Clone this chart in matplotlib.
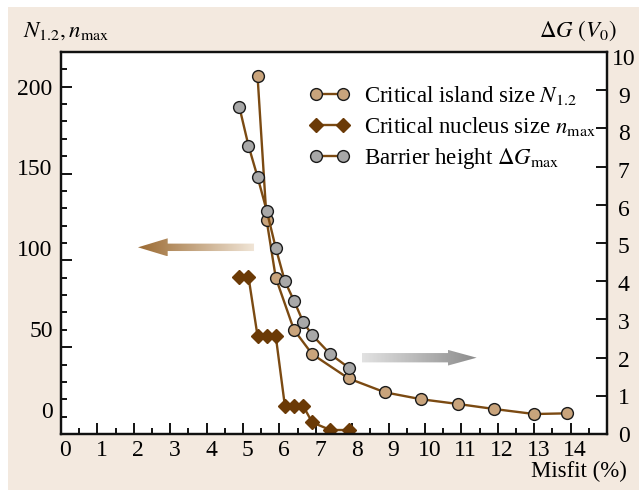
import numpy as np
import matplotlib
matplotlib.use("Agg")
import matplotlib.pyplot as plt
from matplotlib.patches import Polygon, Rectangle

plt.rcParams['font.family'] = ['Liberation Serif', 'DejaVu Serif']
plt.rcParams['mathtext.fontset'] = 'stix'

# critical island size N_1.2 (left axis)
x_island = [5.4, 5.65, 5.9, 6.4, 6.9, 7.9, 8.9, 9.9, 10.9, 11.9, 13.0, 13.9]
n_island = [206, 123, 90, 60, 46, 32, 24, 20, 17.3, 14.4, 11.5, 11.9]

# critical nucleus size n_max (left axis)
x_nucleus = [4.9, 5.15, 5.4, 5.65, 5.9, 6.15, 6.4, 6.65, 6.9, 7.4, 7.9]
n_nucleus = [90.6, 90.6, 56.4, 56.4, 56.4, 16.3, 16.3, 16.3, 6.7, 2.3, 2.3]

# barrier height dG_max (right axis, V0)
x_barrier = [4.9, 5.15, 5.4, 5.65, 5.9, 6.15, 6.4, 6.65, 6.9, 7.4, 7.9]
g_barrier = [8.56, 7.55, 6.73, 5.85, 4.87, 4.0, 3.49, 2.94, 2.59, 2.09, 1.74]

left_labels = [0, 50, 100, 150, 200]
right_labels = list(range(0, 11))
x_labels = list(range(0, 16))

line_col = '#7b4a12'
tan = '#c9a47c'
grey = '#a8a8a8'
diamond = '#6b3a06'
beige = '#f3e9df'

fig = plt.figure(figsize=(6.39, 4.90), dpi=100)
fig.patch.set_facecolor('white')
fig.patches.append(Rectangle((8/639, 0), 1, 1 - 7/490, transform=fig.transFigure,
                             facecolor=beige, edgecolor='none', zorder=-10))

ax = fig.add_axes([61/639, 1 - 434/490, 546/639, 382/490])
ax2 = ax.twinx()

ax.set_xlim(0, 15)
ax.set_ylim(0, 220)
ax2.set_ylim(0, 10)

for a in (ax, ax2):
    for s in a.spines.values():
        s.set_linewidth(1.6)
        s.set_color('#111111')

h1, = ax.plot(x_island, n_island, '-o', color=line_col, lw=1.7, ms=8.5,
              mfc=tan, mec='#1a1a1a', mew=1.0, label=r'Critical island size $N_{1.2}$')
h2, = ax.plot(x_nucleus, n_nucleus, '-D', color=line_col, lw=1.7, ms=7,
              mfc=diamond, mec=diamond, label=r'Critical nucleus size $n_{\mathrm{max}}$')
h3, = ax2.plot(x_barrier, g_barrier, '-o', color=line_col, lw=1.7, ms=8.5,
               mfc=grey, mec='#1a1a1a', mew=1.0, label=r'Barrier height $\Delta G_{\mathrm{max}}$')

# ticks: marks on the main axes, labels on slightly offset secondary axes
ax.set_xticks(x_labels)
ax.set_xticks(np.arange(0.5, 15, 1), minor=True)
ax.set_yticks(range(0, 221, 50))
ax.set_yticks(range(0, 221, 10), minor=True)
ax.tick_params(which='major', direction='in', length=8, width=1.3,
               labelbottom=False, labelleft=False, right=False)
ax.tick_params(which='minor', direction='in', length=4, width=1.3, right=False)
ax2.set_yticks(right_labels)
ax2.tick_params(direction='in', length=8, width=1.3, labelright=False)

secx = ax.secondary_xaxis('bottom', functions=(lambda x: x - 0.12, lambda v: v + 0.12))
secx.set_xticks(x_labels)
secx.tick_params(length=0, pad=4, labelsize=17)
secx.spines['bottom'].set_visible(False)

secl = ax.secondary_yaxis('left', functions=(lambda y: (y - 14) / 0.93, lambda v: 14 + 0.93 * v))
secl.set_yticks(left_labels)
secl.tick_params(length=0, pad=6, labelsize=17)
secl.spines['left'].set_visible(False)

secr = ax2.secondary_yaxis('right', functions=(lambda y: y / 0.987, lambda v: v * 0.987))
secr.set_yticks(right_labels)
secr.tick_params(length=0, pad=12, labelsize=17)
for lab in secr.get_yticklabels():
    lab.set_horizontalalignment('center')
secr.spines['right'].set_visible(False)

ax2.legend(handles=[h1, h2, h3], loc='upper left', bbox_to_anchor=(0.455, 0.917),
           frameon=False, numpoints=2, handlelength=1.75, handletextpad=0.62,
           labelspacing=0.36, borderpad=0, borderaxespad=0, fontsize=16.5)


def gradient_arrow(axis, tail, base, tip, yc, shaft, head, c_tail, c_head):
    pts = [(tail, yc - shaft), (base, yc - shaft), (base, yc - head), (tip, yc),
           (base, yc + head), (base, yc + shaft), (tail, yc + shaft)]
    poly = Polygon(pts, closed=True, transform=axis.transAxes, facecolor='none',
                   edgecolor='none')
    axis.add_patch(poly)
    c0 = np.array(matplotlib.colors.to_rgb(c_tail))
    c1 = np.array(matplotlib.colors.to_rgb(c_head))
    t = np.linspace(0, 1, 256)
    img = (c0[None, :] * (1 - t[:, None]) + c1[None, :] * t[:, None])[None, :, :]
    lo, hi = min(tail, tip), max(tail, tip)
    if tip < tail:
        img = img[:, ::-1, :]
    im = axis.imshow(img, extent=(lo, hi, yc - head, yc + head), transform=axis.transAxes,
                     aspect='auto', interpolation='bilinear', zorder=1)
    im.set_clip_path(poly)


gradient_arrow(ax2, 0.3535, 0.1954, 0.141, 0.4887, 0.0097, 0.0236, '#f1e6d8', '#9b6a32')
gradient_arrow(ax2, 0.5507, 0.7088, 0.7613, 0.1997, 0.0122, 0.0205, '#e2e2e2', '#8c8c8c')
ax2.set_xlim(0, 15)
ax2.set_ylim(0, 10)

fig.text(23/639, 1 - 37/490, r'$N_{1.2}, n_{\mathrm{max}}$', fontsize=16.5, va='baseline', ha='left')
fig.text(617/639, 1 - 37/490, r'$\Delta G\ (V_0)$', fontsize=16.5, va='baseline', ha='right')
fig.text(627/639, 1 - 477/490, 'Misfit (%)', fontsize=16.5, va='baseline', ha='right')

fig.savefig('out.png', dpi=100, facecolor=fig.get_facecolor())
